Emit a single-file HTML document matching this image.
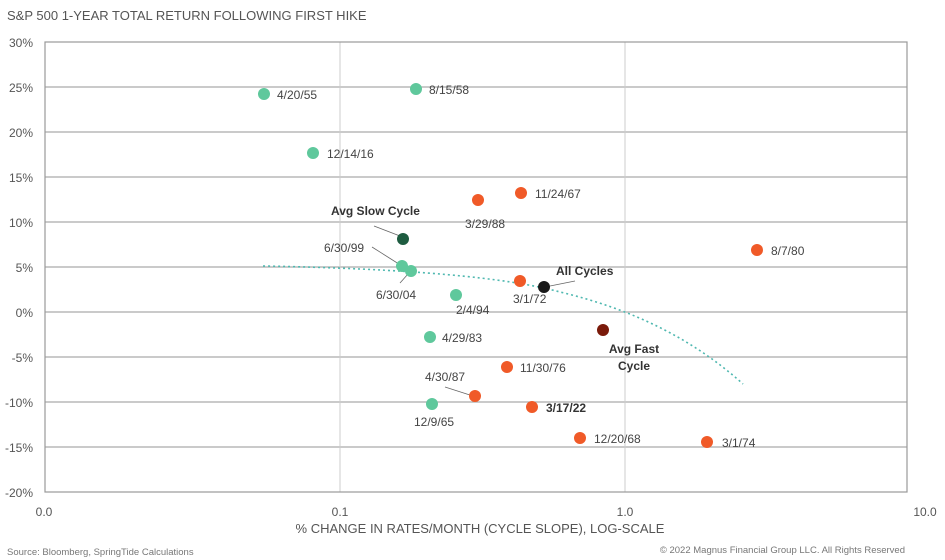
<!DOCTYPE html>
<html><head><meta charset="utf-8"><style>
body{margin:0;background:#fff;}
svg{display:block;font-family:"Liberation Sans",sans-serif;}
</style></head><body>
<svg width="945" height="560" viewBox="0 0 945 560">
<text x="7" y="20" font-size="13" fill="#555">S&amp;P 500 1-YEAR TOTAL RETURN FOLLOWING FIRST HIKE</text>
<g stroke="#aaa" stroke-width="1.2">
<line x1="45" y1="87" x2="907" y2="87"/><line x1="45" y1="132" x2="907" y2="132"/>
<line x1="45" y1="177" x2="907" y2="177"/><line x1="45" y1="222" x2="907" y2="222"/>
<line x1="45" y1="267" x2="907" y2="267"/><line x1="45" y1="312" x2="907" y2="312"/>
<line x1="45" y1="357" x2="907" y2="357"/><line x1="45" y1="402" x2="907" y2="402"/>
<line x1="45" y1="447" x2="907" y2="447"/>
</g>
<g stroke="#ccc" stroke-width="1"><line x1="340" y1="42" x2="340" y2="492"/><line x1="625" y1="42" x2="625" y2="492"/></g>
<rect x="45" y="42" width="862" height="450" fill="none" stroke="#999" stroke-width="1.2"/>
<g font-size="12" fill="#555" text-anchor="end">
<text x="33" y="47">30%</text><text x="33" y="92">25%</text><text x="33" y="137">20%</text>
<text x="33" y="182">15%</text><text x="33" y="227">10%</text><text x="33" y="272">5%</text>
<text x="33" y="317">0%</text><text x="33" y="362">-5%</text><text x="33" y="407">-10%</text>
<text x="33" y="452">-15%</text><text x="33" y="497">-20%</text>
</g>
<g font-size="12" fill="#555" text-anchor="middle">
<text x="44" y="516">0.0</text><text x="340" y="516">0.1</text><text x="625" y="516">1.0</text><text x="925" y="516">10.0</text>
</g>
<text x="480" y="533" font-size="13" fill="#555" text-anchor="middle">% CHANGE IN RATES/MONTH (CYCLE SLOPE), LOG-SCALE</text>
<text x="7" y="555" font-size="9.5" fill="#777">Source: Bloomberg, SpringTide Calculations</text>
<text x="905" y="553" font-size="9.5" fill="#777" text-anchor="end">© 2022 Magnus Financial Group LLC. All Rights Reserved</text>
<path d="M263,266 Q480,270 560,292 Q670,318 743,384" fill="none" stroke="#4fb8b0" stroke-width="1.6" stroke-dasharray="2,3"/>
<g stroke="#666" stroke-width="0.8" fill="none">
<polyline points="374,226 400,236"/><polyline points="372,247 402,266"/><polyline points="400,283 408,274"/>
<polyline points="575,281 550,286"/><polyline points="445,387 473,396"/>
</g>
<g fill="#5fc89c">
<circle cx="264" cy="94" r="6"/><circle cx="416" cy="89" r="6"/><circle cx="313" cy="153" r="6"/>
<circle cx="402" cy="266" r="6"/><circle cx="411" cy="271" r="6"/><circle cx="456" cy="295" r="6"/>
<circle cx="430" cy="337" r="6"/><circle cx="432" cy="404" r="6"/>
</g>
<circle cx="403" cy="239" r="6" fill="#1e5c40"/>
<g fill="#f05a28">
<circle cx="478" cy="200" r="6"/><circle cx="521" cy="193" r="6"/><circle cx="520" cy="281" r="6"/>
<circle cx="757" cy="250" r="6"/><circle cx="507" cy="367" r="6"/><circle cx="475" cy="396" r="6"/>
<circle cx="532" cy="407" r="6"/><circle cx="580" cy="438" r="6"/><circle cx="707" cy="442" r="6"/>
</g>
<circle cx="544" cy="287" r="6" fill="#1a1a1a"/>
<circle cx="603" cy="330" r="6" fill="#7a1a0a"/>
<g font-size="12" fill="#444">
<text x="277" y="99">4/20/55</text><text x="429" y="94">8/15/58</text><text x="327" y="158">12/14/16</text>
<text x="324" y="252">6/30/99</text><text x="376" y="299">6/30/04</text><text x="456" y="314">2/4/94</text>
<text x="442" y="342">4/29/83</text><text x="414" y="426">12/9/65</text>
<text x="465" y="228">3/29/88</text><text x="535" y="198">11/24/67</text><text x="513" y="303">3/1/72</text>
<text x="771" y="255">8/7/80</text><text x="520" y="372">11/30/76</text><text x="425" y="381">4/30/87</text>
<text x="594" y="443">12/20/68</text><text x="722" y="447">3/1/74</text>
</g>
<g font-size="12" fill="#333" font-weight="bold">
<text x="331" y="215">Avg Slow Cycle</text><text x="556" y="275">All Cycles</text>
<text x="546" y="412">3/17/22</text>
<text x="634" y="353" text-anchor="middle">Avg Fast</text><text x="634" y="370" text-anchor="middle">Cycle</text>
</g>
</svg>
</body></html>
